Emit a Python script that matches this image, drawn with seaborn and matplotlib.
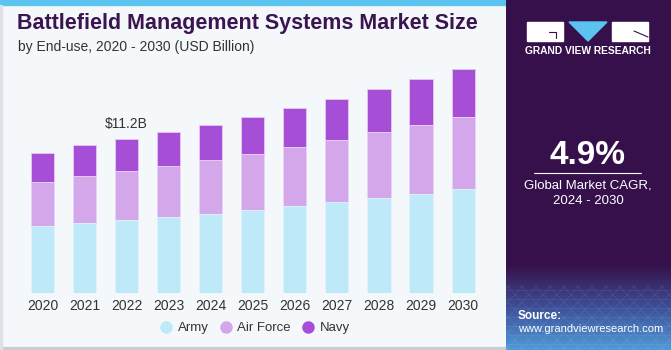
import numpy as np
import pandas as pd
import matplotlib
matplotlib.use('Agg')
import matplotlib.pyplot as plt
import seaborn as sns
from matplotlib.patches import Rectangle, Polygon
from matplotlib.lines import Line2D

# values (USD billion)
years = ['2020', '2021', '2022', '2023', '2024', '2025', '2026', '2027', '2028', '2029', '2030']
army = [4.88, 5.10, 5.32, 5.54, 5.75, 6.05, 6.34, 6.60, 6.94, 7.23, 7.55]
air_force = [3.17, 3.41, 3.56, 3.70, 3.92, 4.06, 4.26, 4.52, 4.75, 4.96, 5.23]
navy = [2.10, 2.23, 2.32, 2.44, 2.54, 2.69, 2.83, 2.98, 3.12, 3.34, 3.48]
segments = ['Army', 'Air Force', 'Navy']
colors = ['#bde9f9', '#d4a7eb', '#a64fd6']
label_year = '2022'
label_text = '$11.2B'

df = pd.DataFrame({'year': years, 'Army': army, 'Air Force': air_force, 'Navy': navy})
df['af_top'] = df['Army'] + df['Air Force']
df['total'] = df['af_top'] + df['Navy']

sns.set_theme(style='white')
plt.rcParams['font.family'] = ['Liberation Sans', 'DejaVu Sans']

W, H = 671, 350
fig = plt.figure(figsize=(W / 100, H / 100), dpi=100)
fig.patch.set_facecolor('#f4f8fb')

# top stripe and border of the chart card
fig.add_artist(Rectangle((0, 1 - 5 / H), 506 / W, 5 / H, transform=fig.transFigure,
                         color='#5bc3ef', zorder=0))
fig.add_artist(Rectangle((0, 0), 506 / W, 3 / H, transform=fig.transFigure,
                         color='#c9cdd1', zorder=0))
fig.add_artist(Rectangle((0, 0), 2 / W, 1 - 5 / H, transform=fig.transFigure,
                         color='#dde1e5', zorder=0))

# bar axes
ax = fig.add_axes([17.3 / W, 56.7 / H, 471 / W, 248 / H])
ax.set_facecolor('none')
sns.barplot(data=df, x='year', y='total', color=colors[2], width=0.55,
            saturation=1, edgecolor='#e4c8f2', linewidth=0.6, ax=ax)
sns.barplot(data=df, x='year', y='af_top', color=colors[1], width=0.55,
            saturation=1, edgecolor='#ecd8f6', linewidth=0.6, ax=ax)
sns.barplot(data=df, x='year', y='Army', color=colors[0], width=0.55,
            saturation=1, edgecolor='#e2f5fc', linewidth=0.6, ax=ax)
ax.set_xlim(-0.6, 10.6)
ax.set_ylim(0, 18)
ax.set_yticks([])
ax.set_xlabel('')
ax.set_ylabel('')
for s in ax.spines.values():
    s.set_visible(False)
ax.tick_params(axis='x', length=0, pad=4, labelsize=10, labelcolor='#333333')

i = years.index(label_year)
ax.text(i, df['total'][i] + 0.6, label_text, ha='center', va='bottom',
        fontsize=10, color='#333333')

# legend
handles = [Line2D([], [], marker='o', linestyle='', markersize=8,
                  markerfacecolor=c, markeredgecolor=c) for c in colors]
fig.legend(handles, segments, loc='center', bbox_to_anchor=(254 / W, 1 - 328 / H),
           ncol=3, frameon=False, fontsize=9.5, handletextpad=0.3, columnspacing=0.7,
           handlelength=1.2, labelcolor='#333333')

# title
fig.text(17 / W, 1 - 23 / H, 'Battlefield Management Systems Market Size', ha='left',
         va='center', fontsize=15.5, fontweight='heavy', color='#3b1450')
fig.text(18 / W, 1 - 47 / H, 'by End-use, 2020 - 2030 (USD Billion)', ha='left',
         va='center', fontsize=10, color='#333333')

# right panel
pan = fig.add_axes([506 / W, 0, 1 - 506 / W, 1])
pan.set_xlim(0, 165)
pan.set_ylim(350, 0)
pan.axis('off')
pan.add_patch(Rectangle((0, 0), 165, 350, color='#36104a', zorder=0))
grad = np.linspace(0, 1, 100)[:, None]
cmap = matplotlib.colors.LinearSegmentedColormap.from_list('g', ['#36104a', '#3d4f98', '#4f9ad8'])
pan.imshow(grad, extent=(0, 165, 350, 265), aspect='auto', cmap=cmap, zorder=1)
for k in range(-8, 20):
    pan.plot([k * 14, k * 14 + 60], [285, 350], color='white', alpha=0.08, lw=0.6, zorder=2)
    pan.plot([k * 14 + 60, k * 14], [285, 350], color='white', alpha=0.08, lw=0.6, zorder=2)
for yy in range(290, 350, 9):
    pan.plot([0, 165], [yy, yy], color='white', alpha=0.07, lw=0.6, zorder=2)

# logo
pan.add_patch(Rectangle((21, 22), 36, 19, color='white', zorder=3))
pan.plot([43, 50, 50], [32, 32, 38], color='#36104a', lw=0.8, zorder=4)
pan.add_patch(Polygon([[63, 22], [101, 22], [82, 41]], closed=True, color='#5bc3ef', zorder=3))
pan.add_patch(Rectangle((106, 22), 36, 19, color='white', zorder=3))
pan.plot([128, 142], [31, 37], color='#36104a', lw=0.8, zorder=4)
pan.text(82, 51, 'GRAND VIEW RESEARCH', ha='center', va='center', fontsize=7.4,
         fontweight='bold', color='white', zorder=4)

pan.text(82, 155, '4.9%', ha='center', va='center', fontsize=24, fontweight='bold',
         color='white', zorder=4)
pan.plot([28, 135], [173, 173], color='white', lw=0.8, zorder=4)
pan.text(82, 185, 'Global Market CAGR,', ha='center', va='center', fontsize=9.5,
         color='white', zorder=4)
pan.text(82, 201, '2024 - 2030', ha='center', va='center', fontsize=9.5,
         color='white', zorder=4)
pan.text(12, 316, 'Source:', ha='left', va='center', fontsize=8.5, fontweight='bold',
         color='white', zorder=4)
pan.text(12, 329, 'www.grandviewresearch.com', ha='left', va='center', fontsize=8,
         color='white', zorder=4)

fig.savefig('out.png', dpi=100, facecolor=fig.get_facecolor())
